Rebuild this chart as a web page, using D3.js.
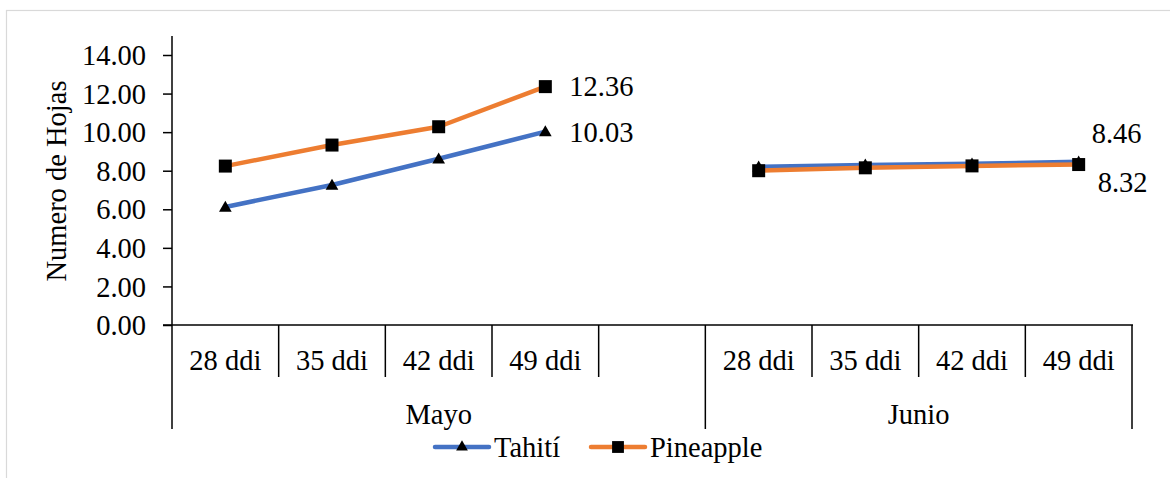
<!DOCTYPE html>
<html>
<head>
<meta charset="utf-8">
<script src="https://cdn.jsdelivr.net/npm/d3@7"></script>
<style>
  html, body { margin: 0; padding: 0; background: #fff; }
  svg { display: block; }
  text { font-family: "Liberation Serif", "DejaVu Serif", "Times New Roman", serif; fill: #000; }
</style>
</head>
<body>
<svg id="chart" width="1170" height="478"></svg>
<script>
// Category slots along the x axis (Mayo has an empty fifth slot)
const groups = ["Mayo", "Junio"];
const slots = [
  { group: "Mayo", label: "28 ddi" },
  { group: "Mayo", label: "35 ddi" },
  { group: "Mayo", label: "42 ddi" },
  { group: "Mayo", label: "49 ddi" },
  { group: "Mayo", label: "" },
  { group: "Junio", label: "28 ddi" },
  { group: "Junio", label: "35 ddi" },
  { group: "Junio", label: "42 ddi" },
  { group: "Junio", label: "49 ddi" }
];
const seriesNames = ["Tahití", "Pineapple"];
// Values per group (slot indices 0-3 for Mayo, 5-8 for Junio)
const tahitiMayo = [6.12, 7.26, 8.62, 10.03];
const tahitiJunio = [8.20, 8.30, 8.36, 8.46];
const pineappleMayo = [8.24, 9.33, 10.28, 12.36];
const pineappleJunio = [8.00, 8.15, 8.25, 8.32];
const yTicks = [0, 2, 4, 6, 8, 10, 12, 14];
const colors = ["#4472C4", "#ED7D31"];

const FONT = 28.5;
const svg = d3.select("#chart");

// Outer frame
svg.append("rect")
  .attr("x", 6.5).attr("y", 10.5)
  .attr("width", 1200).attr("height", 500)
  .attr("fill", "none").attr("stroke", "#d9d9d9").attr("stroke-width", 1.2);

const plot = { left: 172, right: 1132, top: 55, bottom: 325 };

const x = d3.scaleBand()
  .domain(d3.range(slots.length))
  .range([plot.left, plot.right])
  .paddingInner(0).paddingOuter(0);

const y = d3.scaleLinear().domain([0, 14]).range([plot.bottom, plot.top]);

// Y axis
const yAxis = svg.append("g")
  .attr("transform", `translate(${plot.left},0)`)
  .call(d3.axisLeft(y).tickValues(yTicks).tickFormat(d3.format(".2f")).tickSize(9).tickPadding(17));
yAxis.attr("font-family", null).attr("font-size", null);
yAxis.select(".domain").remove();
yAxis.selectAll(".tick line").attr("stroke", "#000").attr("stroke-width", 1.5);
yAxis.selectAll(".tick text").attr("font-size", FONT).attr("dy", "0.34em");

// Vertical axis line from top down through the category rows
svg.append("line")
  .attr("x1", plot.left).attr("x2", plot.left)
  .attr("y1", 36).attr("y2", 429)
  .attr("stroke", "#000").attr("stroke-width", 1.5);

// Horizontal axis line
svg.append("line")
  .attr("x1", plot.left - 9).attr("x2", plot.right + 1)
  .attr("y1", plot.bottom).attr("y2", plot.bottom)
  .attr("stroke", "#000").attr("stroke-width", 1.5);

// Category divider ticks
const catTickBottom = 377;
const groupBottom = 429;
const groupStarts = [0, 5];
slots.forEach((s, i) => {
  if (i === 0) return;
  const xx = x(i);
  const isGroupStart = groupStarts.includes(i);
  svg.append("line")
    .attr("x1", xx).attr("x2", xx)
    .attr("y1", plot.bottom).attr("y2", isGroupStart ? groupBottom : catTickBottom)
    .attr("stroke", "#000").attr("stroke-width", 1.5);
});
// Right end divider
svg.append("line")
  .attr("x1", plot.right).attr("x2", plot.right)
  .attr("y1", plot.bottom).attr("y2", groupBottom)
  .attr("stroke", "#000").attr("stroke-width", 1.5);

// Category labels
svg.append("g").selectAll("text")
  .data(slots.map((s, i) => ({ ...s, i })).filter(d => d.label))
  .join("text")
  .attr("x", d => x(d.i) + x.bandwidth() / 2)
  .attr("y", 360)
  .attr("dy", "0.34em")
  .attr("text-anchor", "middle")
  .attr("font-size", FONT)
  .text(d => d.label);

// Group labels
const groupSpans = [[0, 5], [5, 9]];
const edge = i => (i < slots.length ? x(i) : plot.right);
svg.append("g").selectAll("text")
  .data(groups)
  .join("text")
  .attr("x", (g, gi) => (edge(groupSpans[gi][0]) + edge(groupSpans[gi][1])) / 2)
  .attr("y", 414)
  .attr("dy", "0.34em")
  .attr("text-anchor", "middle")
  .attr("font-size", FONT)
  .text(g => g);

// Axis title
svg.append("text")
  .attr("transform", `translate(66,181) rotate(-90)`)
  .attr("text-anchor", "middle")
  .attr("font-size", FONT)
  .text("Numero de Hojas");

// Series data as segments per group
const cx = i => x(i) + x.bandwidth() / 2;
const series = [
  { name: seriesNames[0], color: colors[0], marker: "triangle",
    segs: [tahitiMayo.map((v, k) => ({ i: k, v })), tahitiJunio.map((v, k) => ({ i: 5 + k, v }))] },
  { name: seriesNames[1], color: colors[1], marker: "square",
    segs: [pineappleMayo.map((v, k) => ({ i: k, v })), pineappleJunio.map((v, k) => ({ i: 5 + k, v }))] }
];

const line = d3.line().x(d => cx(d.i)).y(d => y(d.v));
const triangle = d3.symbol().type(d3.symbolTriangle).size(70);
const square = d3.symbol().type(d3.symbolSquare).size(169);

series.forEach(s => {
  const g = svg.append("g");
  s.segs.forEach(seg => {
    g.append("path")
      .attr("d", line(seg))
      .attr("fill", "none")
      .attr("stroke", s.color)
      .attr("stroke-width", 4.5)
      .attr("stroke-linejoin", "round")
      .attr("stroke-linecap", "round");
    g.selectAll(null)
      .data(seg)
      .join("path")
      .attr("transform", d => `translate(${cx(d.i)},${y(d.v) + (s.marker === "triangle" ? 1 : 0)})`)
      .attr("d", s.marker === "triangle" ? triangle() : square())
      .attr("fill", "#000");
  });
});

// Value labels at the last point of each group
const endLabels = [
  { i: 3, v: pineappleMayo[3], dx: 24, dy: 0 },
  { i: 3, v: tahitiMayo[3], dx: 24, dy: 1 },
  { i: 8, v: tahitiJunio[3], dx: 13, dy: -29 },
  { i: 8, v: pineappleJunio[3], dx: 19, dy: 18 }
];
svg.append("g").selectAll("text")
  .data(endLabels)
  .join("text")
  .attr("x", d => cx(d.i) + d.dx)
  .attr("y", d => y(d.v) + d.dy)
  .attr("dy", "0.34em")
  .attr("font-size", FONT)
  .text(d => d3.format(".2f")(d.v));

// Legend
const legend = [
  { name: seriesNames[0], color: colors[0], marker: "triangle", x0: 435 },
  { name: seriesNames[1], color: colors[1], marker: "square", x0: 591 }
];
const ly = 447;
legend.forEach(l => {
  const g = svg.append("g");
  g.append("line")
    .attr("x1", l.x0).attr("x2", l.x0 + 54)
    .attr("y1", ly).attr("y2", ly)
    .attr("stroke", l.color).attr("stroke-width", 4.5).attr("stroke-linecap", "round");
  g.append("path")
    .attr("transform", `translate(${l.x0 + 27},${ly})`)
    .attr("d", l.marker === "triangle" ? d3.symbol().type(d3.symbolTriangle).size(60)() : d3.symbol().type(d3.symbolSquare).size(140)())
    .attr("fill", "#000");
  g.append("text")
    .attr("x", l.x0 + 59)
    .attr("y", ly)
    .attr("dy", "0.34em")
    .attr("font-size", FONT)
    .text(l.name);
});
</script>
</body>
</html>
